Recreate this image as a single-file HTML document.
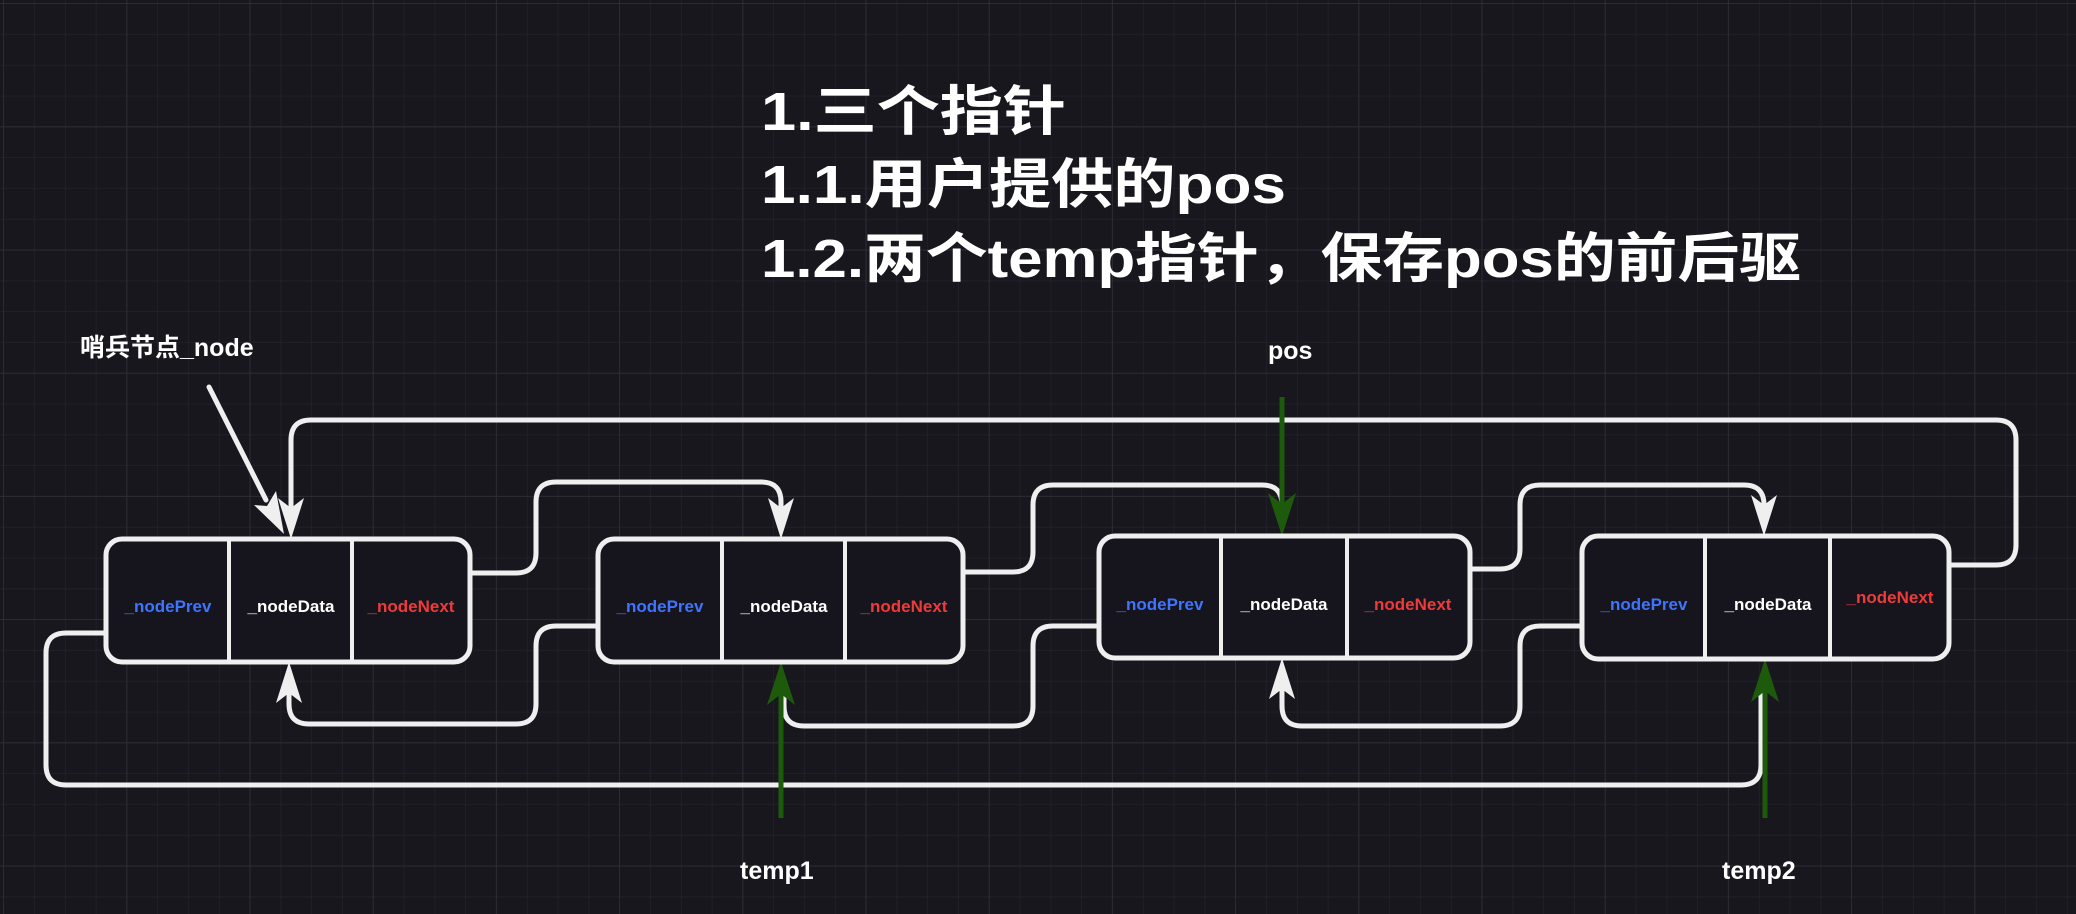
<!DOCTYPE html>
<html><head><meta charset="utf-8"><style>
html,body{margin:0;padding:0;background:#18171e;}
svg{display:block}
</style></head><body>
<svg width="2076" height="914" viewBox="0 0 2076 914" xmlns="http://www.w3.org/2000/svg">
<defs>
<pattern id="g" width="30.8" height="30.8" patternUnits="userSpaceOnUse" x="4" y="4">
<path d="M30.8 0V30.8M0 30.8H30.8" stroke="#25242c" stroke-width="1.2" fill="none"/>
</pattern>
<pattern id="G" width="123.2" height="123.2" patternUnits="userSpaceOnUse" x="4" y="4">
<path d="M123.2 0V123.2M0 123.2H123.2" stroke="#31303a" stroke-width="1.5" fill="none"/>
</pattern>
</defs>
<rect width="2076" height="914" fill="#18171e"/>
<rect width="2076" height="914" fill="url(#g)"/>
<rect width="2076" height="914" fill="url(#G)"/>

<g font-family="'Liberation Sans','Noto Sans CJK SC',sans-serif" font-weight="bold" fill="#ffffff" font-size="54">
<text x="761" y="130" textLength="305" lengthAdjust="spacingAndGlyphs">1.三个指针</text>
<text x="761" y="203" textLength="525" lengthAdjust="spacingAndGlyphs">1.1.用户提供的pos</text>
<text x="761" y="277" textLength="1040" lengthAdjust="spacingAndGlyphs">1.2.两个temp指针，保存pos的前后驱</text>
</g>

<g font-family="'Liberation Sans','Noto Sans CJK SC',sans-serif" font-weight="bold" fill="#ffffff" font-size="25">
<text x="80" y="356">哨兵节点_node</text>
<text x="1268" y="359">pos</text>
<text x="740" y="879">temp1</text>
<text x="1722" y="879">temp2</text>
</g>

<g fill="none" stroke="#efefef" stroke-width="5" stroke-linejoin="round" stroke-linecap="round">
<path d="M1949 565 H1996 Q2016 565 2016 545 V440 Q2016 420 1996 420 H311 Q291 420 291 440 V510"/>
<path d="M470 573 H516 Q536 573 536 553 V502 Q536 482 556 482 H761 Q781 482 781 502 V510"/>
<path d="M963 572 H1013 Q1033 572 1033 552 V505 Q1033 485 1053 485 H1262 Q1282 485 1282 505 V510"/>
<path d="M1470 569 H1500 Q1520 569 1520 549 V505 Q1520 485 1540 485 H1744 Q1764 485 1764 505 V508"/>
<path d="M598 626 H556 Q536 626 536 646 V704 Q536 724 516 724 H309 Q289 724 289 704 V690"/>
<path d="M1099 626 H1053 Q1033 626 1033 646 V706 Q1033 726 1013 726 H804 Q784 726 784 706 V690"/>
<path d="M1582 626 H1540 Q1520 626 1520 646 V706 Q1520 726 1500 726 H1302 Q1282 726 1282 706 V686"/>
<path d="M106 633 H66 Q46 633 46 653 V765 Q46 785 66 785 H1741 Q1761 785 1761 765 V690"/>
<path d="M209 387 L266 500"/>
</g>
<g fill="#efefef">
<polygon points="291,539 278,498 291,508 304,498"/>
<polygon points="781,539 768,498 781,508 794,498"/>
<polygon points="1764,536 1751,495 1764,505 1777,495"/>
<polygon points="289,662 276,703 289,693 302,703"/>
<polygon points="1282,658 1269,699 1282,689 1295,699"/>
<polygon points="284,534 254,505 267,506 276,491"/>
</g>

<g stroke="#1d5a0c" stroke-width="5" fill="none">
<path d="M1282 397 V512"/>
<path d="M781 818 V692"/>
<path d="M1765 818 V690"/>
</g>
<g fill="#1d5a0c">
<polygon points="1282,536 1268,493 1282,504 1296,493"/>
<polygon points="781,662 767,705 781,694 795,705"/>
<polygon points="1765,659 1751,702 1765,691 1779,702"/>
</g>

<g stroke="#efefef" stroke-width="5" fill="#16151d">
<rect x="106" y="539" width="364" height="123" rx="16"/>
<rect x="598" y="539" width="365" height="123" rx="16"/>
<rect x="1099" y="536" width="371" height="122" rx="16"/>
<rect x="1582" y="536" width="367" height="123" rx="16"/>
</g>
<g stroke="#efefef" stroke-width="4">
<path d="M229 539V662M352 539V662M722 539V662M845 539V662M1221 536V658M1347 536V658M1705 536V659M1830 536V659"/>
</g>
<g font-family="'Liberation Sans',sans-serif" font-weight="bold" font-size="17" text-anchor="middle">
<text x="168" y="612" fill="#3f74ff">_nodePrev</text>
<text x="291" y="612" fill="#ffffff">_nodeData</text>
<text x="411" y="612" fill="#f03a3a">_nodeNext</text>
<text x="660" y="612" fill="#3f74ff">_nodePrev</text>
<text x="784" y="612" fill="#ffffff">_nodeData</text>
<text x="904" y="612" fill="#f03a3a">_nodeNext</text>
<text x="1160" y="610" fill="#3f74ff">_nodePrev</text>
<text x="1284" y="610" fill="#ffffff">_nodeData</text>
<text x="1408" y="610" fill="#f03a3a">_nodeNext</text>
<text x="1644" y="610" fill="#3f74ff">_nodePrev</text>
<text x="1768" y="610" fill="#ffffff">_nodeData</text>
<text x="1890" y="603" fill="#f03a3a">_nodeNext</text>
</g>
</svg>
</body></html>
